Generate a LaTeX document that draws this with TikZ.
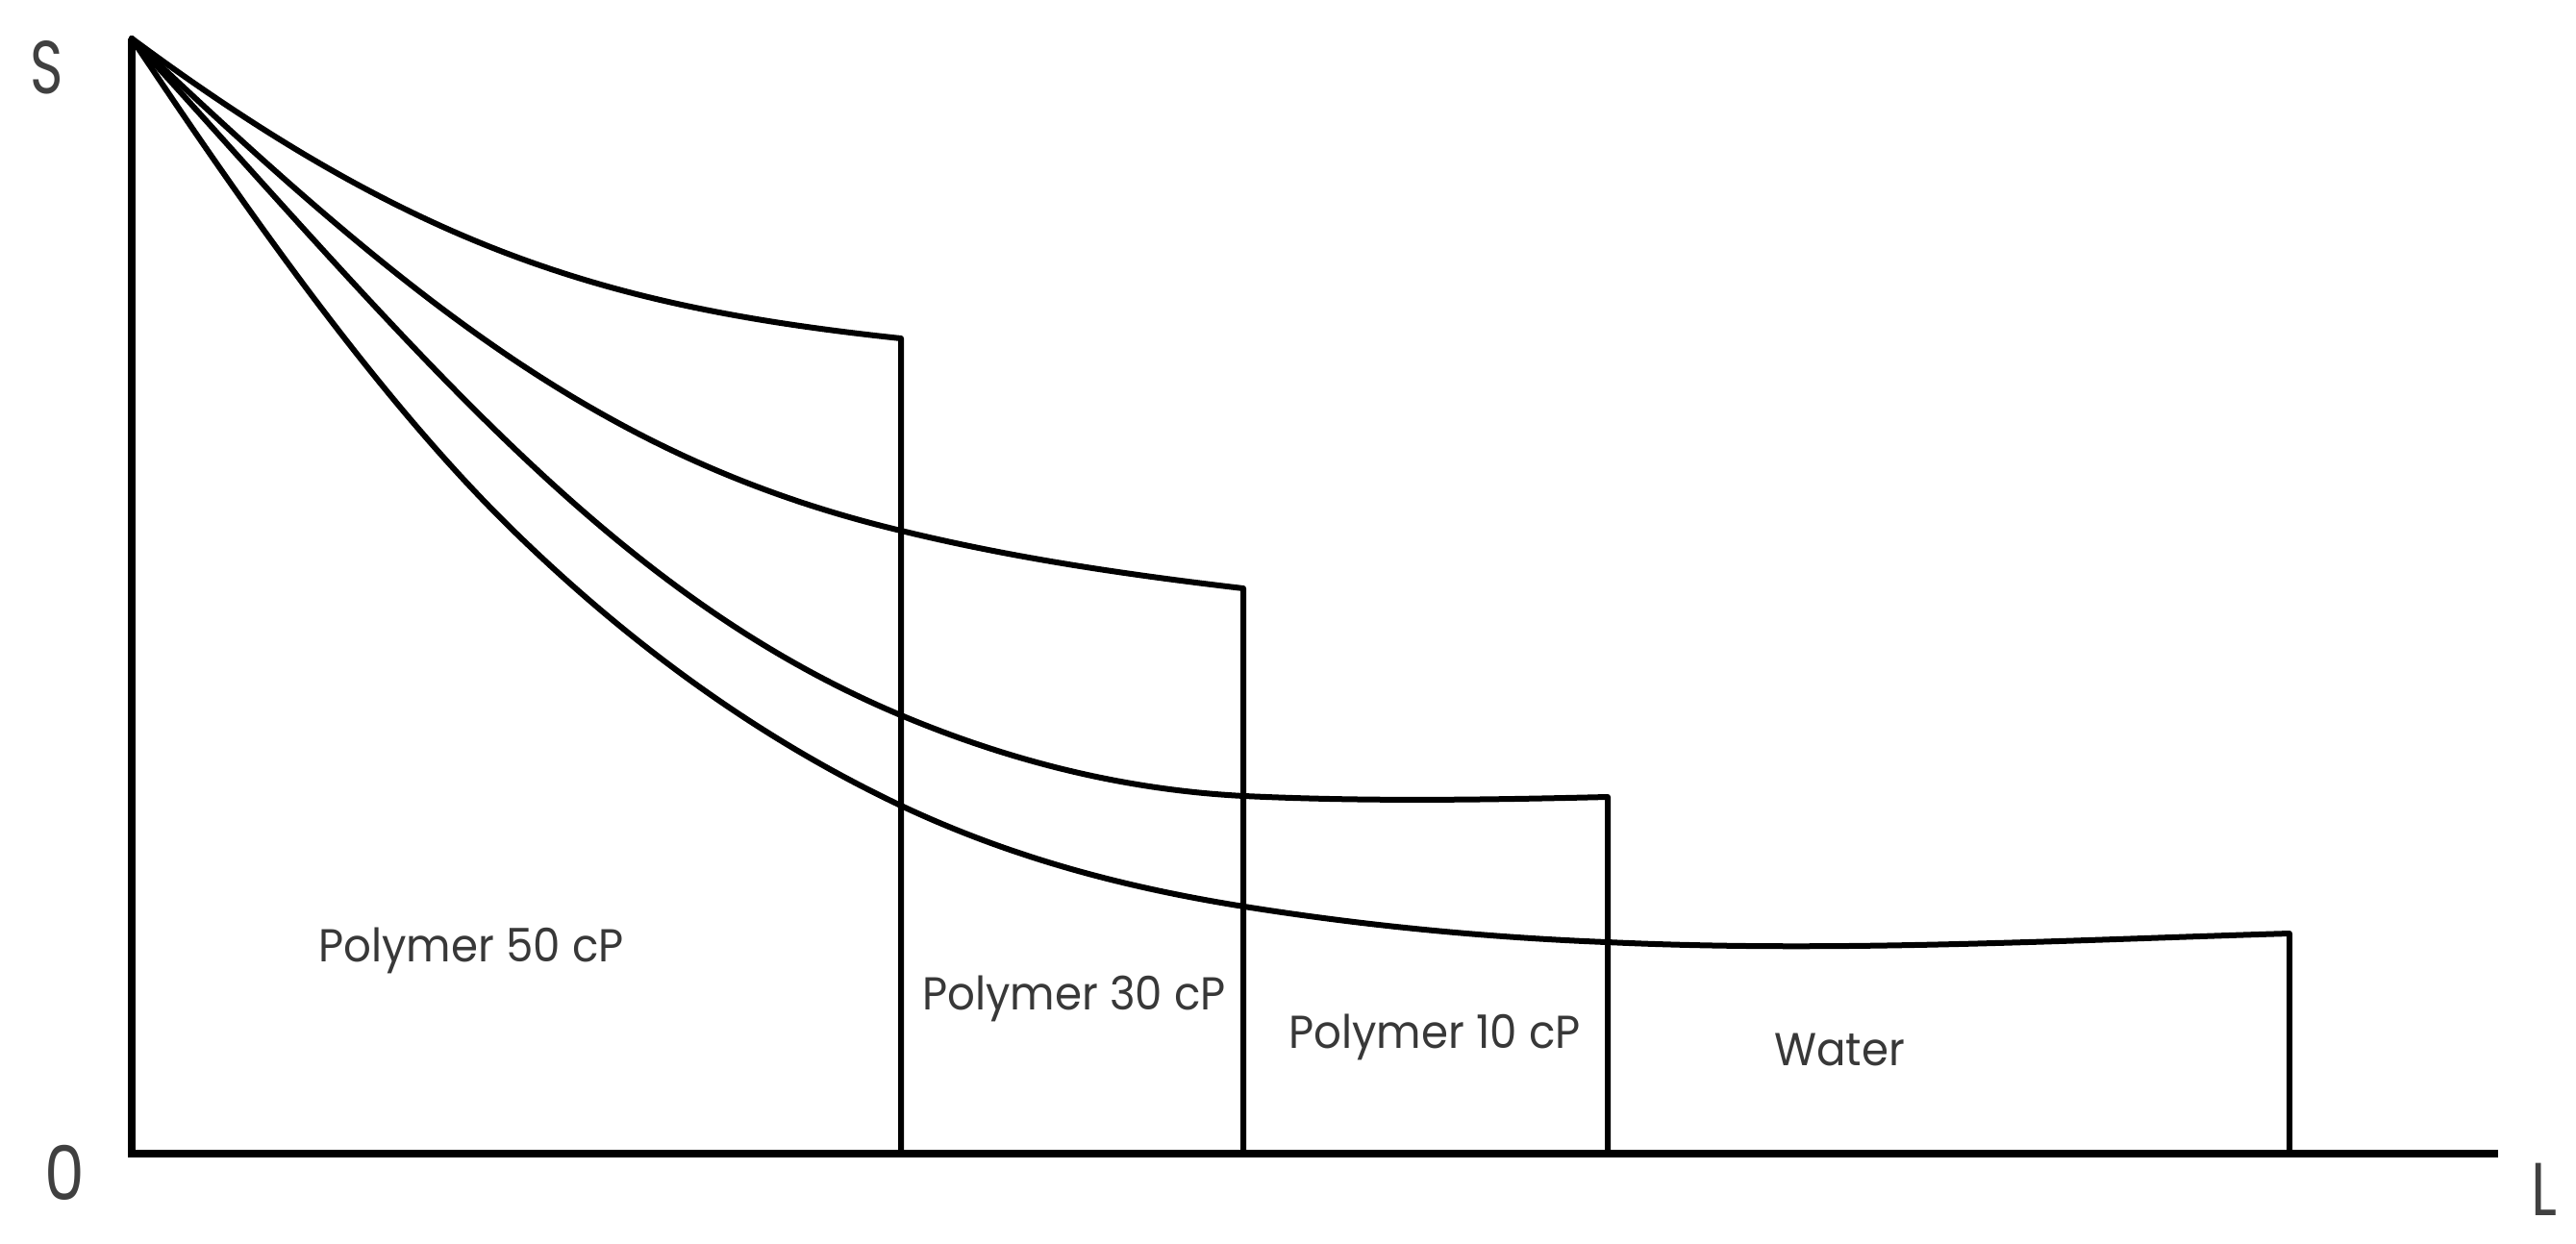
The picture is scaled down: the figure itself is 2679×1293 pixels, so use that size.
\documentclass[tikz,border=0pt]{standalone}
\usepackage{fontspec}
\setmainfont{Poppins}
\begin{document}
\begin{tikzpicture}[x=1pt,y=-1pt,
  curve/.style={line width=6pt, line join=round, line cap=round},
  axisline/.style={line width=7.5pt, line join=miter},
  lbl/.style={font=\fontsize{48}{50}\selectfont, text=black!78, anchor=base, inner sep=0pt},
  axl/.style={font=\fontsize{78}{80}\selectfont, text=black!75, anchor=base, inner sep=0pt}]
\useasboundingbox (0,0) rectangle (2679,1293);
% axes
\coordinate (T) at (137,40);
\coordinate (O) at (137,1200);
\coordinate (E) at (2598,1200);
\draw[axisline] (T) -- (O) -- (E);
% curve ends and feet
\coordinate (e1) at (937,352);   \coordinate (f1) at (937,1200);
\coordinate (e2) at (1293,612);  \coordinate (f2) at (1293,1200);
\coordinate (e3) at (1672,829);  \coordinate (f3) at (1672,1200);
\coordinate (e4) at (2381,971);  \coordinate (f4) at (2381,1200);
% Polymer 50 cP
\draw[curve] (T) .. controls (437,262) and (637,320) .. (e1) -- (f1);
% Polymer 30 cP
\draw[curve] (T) .. controls (437,325) and (637,480) .. (937,552)
  .. controls (1056,581) and (1174,598) .. (e2) -- (f2);
% Polymer 10 cP
\draw[curve] (T) .. controls (437,370) and (637,618) .. (937,744)
  .. controls (1056,794) and (1175,822) .. (1294,828)
  .. controls (1420,834) and (1546,832) .. (e3) -- (f3);
% Water
\draw[curve] (T) .. controls (270,240) and (404,426) .. (537,555)
  .. controls (670,684) and (804,775) .. (937,838)
  .. controls (1056,894) and (1175,924) .. (1294,943)
  .. controls (1420,963) and (1545,975) .. (1671,980)
  .. controls (1908,991) and (2144,978) .. (e4) -- (f4);
% labels
\node[axl] (S) at (49,97) {\scalebox{0.75}[1]{S}};
\node[axl] (zero) at (67,1248) {\scalebox{0.85}[1]{0}};
\node[axl] (Lx) at (2646,1264) {\scalebox{0.8}[1]{L}};
\node[lbl] (p50) at (490,1000) {\scalebox{0.94}[1]{Polymer 50 cP}};
\node[lbl] (p30) at (1117,1050) {\scalebox{0.94}[1]{Polymer 30 cP}};
\node[lbl] (p10) at (1492,1090) {\scalebox{0.94}[1]{Polymer 10 cP}};
\node[lbl] (w) at (1913,1108) {\scalebox{0.94}[1]{Water}};
\end{tikzpicture}
\end{document}
